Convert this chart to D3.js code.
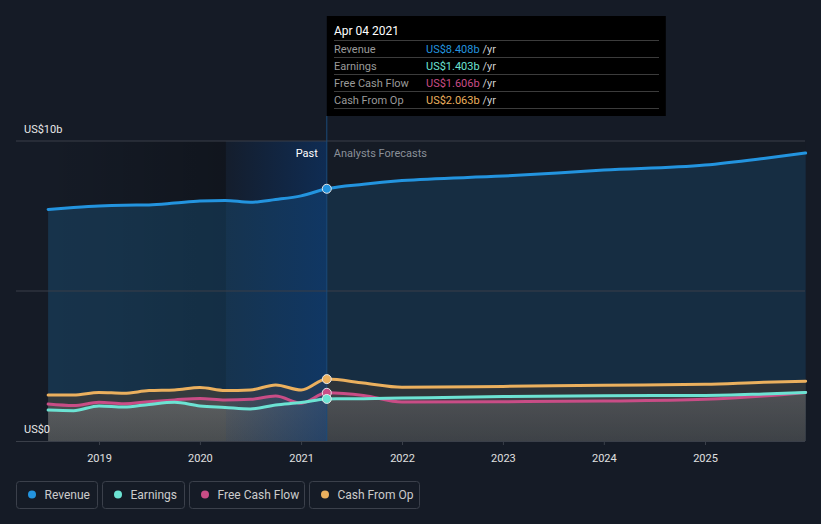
<!DOCTYPE html>
<html>
<head>
<meta charset="utf-8">
<script src="https://cdn.jsdelivr.net/npm/d3@7"></script>
<style>
  html, body { margin: 0; padding: 0; background: #151b26; }
  svg { display: block; font-family: Roboto, "Open Sans", sans-serif; }
</style>
</head>
<body>
<svg id="chart" width="821" height="524"></svg>
<script>
// ---------- DATA ----------
const dates = ["2018-07-01","2018-10-01","2019-01-01","2019-04-01","2019-07-01","2019-10-01",
               "2020-01-01","2020-04-01","2020-07-01","2020-10-01","2021-01-01","2021-04-04",
               "2021-08-15","2022-01-01","2023-01-01","2024-01-01","2025-01-01","2025-08-01","2025-12-31"];
const revenue    = [7.72,7.78,7.83,7.86,7.87,7.93,8.00,8.02,7.96,8.05,8.17,8.408,8.56,8.68,8.83,9.03,9.20,9.42,9.60];
const earnings   = [1.03,1.01,1.17,1.13,1.22,1.29,1.17,1.12,1.07,1.20,1.28,1.403,1.41,1.43,1.48,1.51,1.52,1.57,1.62];
const freeCash   = [1.23,1.18,1.29,1.24,1.31,1.37,1.42,1.37,1.39,1.50,1.26,1.606,1.52,1.30,1.31,1.33,1.39,1.50,1.62];
const cashFromOp = [1.53,1.53,1.62,1.59,1.68,1.70,1.78,1.68,1.70,1.87,1.70,2.063,1.93,1.79,1.82,1.86,1.89,1.96,1.99];
const yearTicks  = ["2019","2020","2021","2022","2023","2024","2025"];
const yTickLabels = [{v:10, t:"US$10b"}, {v:0, t:"US$0"}];
const hoverDate = "2021-04-04";
const bandStart = "2020-04-04";
const tooltipTitle = "Apr 04 2021";
const seriesNames = ["Revenue","Earnings","Free Cash Flow","Cash From Op"];
const tooltipValues = ["US$8.408b","US$1.403b","US$1.606b","US$2.063b"];
const colors = ["#2394df","#6ce3d3","#c94d86","#ebb05e"];

// ---------- SETUP ----------
const parse = d3.timeParse("%Y-%m-%d");
const D = dates.map(parse);
const svg = d3.select("#chart");
const x = d3.scaleTime().domain([parse("2019-01-01"), parse("2025-01-01")]).range([99, 705]);
const y = d3.scaleLinear().domain([0, 10]).range([441, 141]);
const left = 16, right = 805;
const xStart = x(D[0]), xEnd = x(D[D.length-1]);
const xHover = x(parse(hoverDate)), xBand = x(parse(bandStart));

const defs = svg.append("defs");
const g1 = defs.append("linearGradient").attr("id","pastGrad").attr("x1","0").attr("x2","1").attr("y1","0").attr("y2","0");
g1.append("stop").attr("offset","0").attr("stop-color","#000").attr("stop-opacity",0);
g1.append("stop").attr("offset","1").attr("stop-color","#000").attr("stop-opacity",0.22);
const g2 = defs.append("linearGradient").attr("id","bandGrad").attr("x1","0").attr("x2","1").attr("y1","0").attr("y2","0");
g2.append("stop").attr("offset","0").attr("stop-color","#0a3a78").attr("stop-opacity",0.08);
g2.append("stop").attr("offset","1").attr("stop-color","#0a3a78").attr("stop-opacity",0.55);
const g3 = defs.append("linearGradient").attr("id","lowGrad").attr("gradientUnits","userSpaceOnUse")
  .attr("x1",0).attr("x2",0).attr("y1",y(2.1)).attr("y2",y(0));
g3.append("stop").attr("offset","0").attr("stop-color","#a09c9c").attr("stop-opacity",0.25);
g3.append("stop").attr("offset","1").attr("stop-color","#a09c9c").attr("stop-opacity",0.1);

// past darker region
svg.append("rect").attr("x", xStart).attr("y", y(10)).attr("width", xBand - xStart).attr("height", y(0)-y(10))
  .attr("fill","url(#pastGrad)");

const series = [revenue, earnings, freeCash, cashFromOp];
const pts = s => s.map((v,i)=>({d:D[i], v}));
const area = d3.area().x(p=>x(p.d)).y0(y(0)).y1(p=>y(p.v)).curve(d3.curveMonotoneX);
const line = d3.line().x(p=>x(p.d)).y(p=>y(p.v)).curve(d3.curveMonotoneX);

// revenue area
svg.append("path").attr("d", area(pts(revenue))).attr("fill", colors[0]).attr("fill-opacity", 0.2);
// lower areas
svg.append("path").attr("d", area(pts(cashFromOp))).attr("fill", "#3b3d3d").attr("fill-opacity", 0.85);
svg.append("path").attr("d", area(pts(freeCash))).attr("fill", "url(#lowGrad)");
svg.append("path").attr("d", area(pts(earnings))).attr("fill", "url(#lowGrad)");

// forecast dimming overlay
svg.append("rect").attr("x", xHover).attr("y", y(10)).attr("width", xEnd - xHover).attr("height", y(0)-y(10))
  .attr("fill","#151b26").attr("fill-opacity",0.22);

// highlight band
svg.append("rect").attr("x", xBand).attr("y", y(10)).attr("width", xHover - xBand).attr("height", y(0)-y(10))
  .attr("fill","url(#bandGrad)");

// grid lines
[10,5].forEach(v=>{
  svg.append("line").attr("x1",left).attr("x2",right).attr("y1",y(v)).attr("y2",y(v))
    .attr("stroke","#3a3f49").attr("stroke-width",1);
});

// lines
[3,2,1,0].forEach(i=>{
  svg.append("path").attr("d", line(pts(series[i]))).attr("fill","none")
    .attr("stroke", colors[i]).attr("stroke-width", 3).attr("stroke-linecap","round");
});

// x axis
const xAxis = d3.axisBottom(x).tickValues(yearTicks.map(t=>parse(t+"-01-01"))).tickFormat(d3.timeFormat("%Y")).tickSizeOuter(0).tickSize(4);
const ax = svg.append("g").attr("transform",`translate(0,${y(0)})`).call(xAxis);
ax.select(".domain").remove();
ax.selectAll(".tick line").attr("stroke","#3a3f49");
ax.selectAll(".tick text").attr("fill","#e0e0e0").attr("font-size",11).attr("dy","1.3em").attr("font-family","Roboto, sans-serif");
svg.append("line").attr("x1",left).attr("x2",right).attr("y1",y(0)+0.5).attr("y2",y(0)+0.5).attr("stroke","#3a3f49");

// y labels
yTickLabels.forEach(o=>{
  svg.append("text").attr("x",24).attr("y",y(o.v)-8).attr("fill","#e8e8e8").attr("font-size",11).text(o.t);
});

// vertical hover line
svg.append("line").attr("x1",xHover).attr("x2",xHover).attr("y1",116).attr("y2",y(0))
  .attr("stroke","#1b4a7a").attr("stroke-width",1);

// Past / Analysts Forecasts
svg.append("text").attr("x",xHover-9).attr("y",157).attr("text-anchor","end").attr("fill","#ffffff").attr("font-size",11).text("Past");
svg.append("text").attr("x",xHover+7).attr("y",157).attr("fill","#8b9098").attr("font-size",11).text("Analysts Forecasts");

// markers
const hi = dates.indexOf(hoverDate);
[3,2,1,0].forEach(i=>{
  svg.append("circle").attr("cx",xHover).attr("cy",y(series[i][hi])).attr("r",4.5)
    .attr("fill",colors[i]).attr("stroke","#e6e6e6").attr("stroke-width",1);
});

// tooltip
const tt = svg.append("g");
tt.append("rect").attr("x",xHover).attr("y",16).attr("width",339).attr("height",100).attr("fill","#000");
tt.append("text").attr("x",334).attr("y",35).attr("fill","#ffffff").attr("font-size",12).text(tooltipTitle);
[40.5,57.5,74.5,91.5,108.5].forEach(yy=>{
  tt.append("line").attr("x1",334).attr("x2",659).attr("y1",yy).attr("y2",yy).attr("stroke","#3c3c3c");
});
seriesNames.forEach((n,i)=>{
  const yy = 53 + i*17;
  tt.append("text").attr("x",334).attr("y",yy).attr("fill","#9a9a9a").attr("font-size",11).text(n);
  const t = tt.append("text").attr("x",426).attr("y",yy).attr("font-size",11);
  t.append("tspan").attr("fill",colors[i]).text(tooltipValues[i]);
  t.append("tspan").attr("fill","#cfcfcf").text(" /yr");
});

// legend
const legX = [16.5, 102.5, 189.5, 309.5], legW = [81, 82, 115, 110];
seriesNames.forEach((n,i)=>{
  const g = svg.append("g");
  g.append("rect").attr("x",legX[i]).attr("y",481.5).attr("width",legW[i]).attr("height",27).attr("rx",3)
    .attr("fill","none").attr("stroke","#3b404b");
  g.append("circle").attr("cx",legX[i]+15.5).attr("cy",494.5).attr("r",4).attr("fill",colors[i]);
  g.append("text").attr("x",legX[i]+28).attr("y",498.5).attr("fill","#cccccc").attr("font-size",12).text(n);
});
</script>
</body>
</html>
